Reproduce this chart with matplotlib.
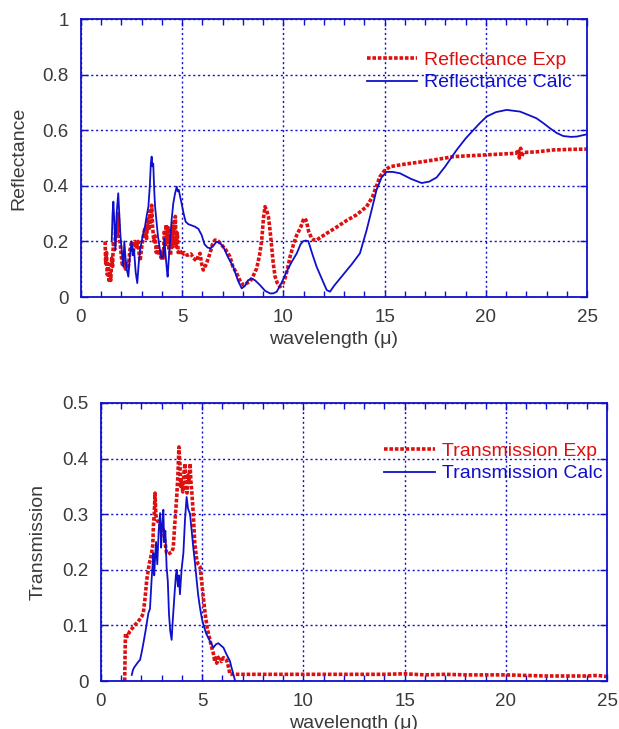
import matplotlib
matplotlib.use("Agg")
import matplotlib.pyplot as plt
from matplotlib.ticker import MultipleLocator, FuncFormatter

plt.rcParams['font.family'] = ['Liberation Sans', 'DejaVu Sans']

# ---- Data ----
refl_exp_x = [1.19,1.22,1.26,1.30,1.34,1.38,1.43,1.47,1.52,1.56,1.60,1.66,1.72,1.78,1.84,1.88,1.94,2.00,2.05,2.12,2.20,2.28,2.34,2.42,2.50,2.58,2.66,2.74,2.82,2.88,2.92,3.00,3.08,3.16,3.24,3.30,3.36,3.41,3.46,3.49,3.54,3.60,3.66,3.72,3.78,3.84,3.90,3.96,4.02,4.07,4.12,4.16,4.20,4.25,4.30,4.34,4.38,4.42,4.48,4.52,4.58,4.62,4.66,4.70,4.76,4.80,4.89,5.00,5.10,5.25,5.43,5.55,5.71,5.80,5.88,5.96,6.04,6.20,6.37,6.50,6.62,6.80,6.95,7.15,7.36,7.50,7.69,7.85,8.02,8.20,8.35,8.50,8.68,8.82,8.93,9.01,9.09,9.18,9.26,9.34,9.42,9.50,9.59,9.70,9.83,9.95,10.08,10.20,10.33,10.50,10.66,10.85,10.98,11.07,11.15,11.25,11.40,11.50,11.64,12.14,12.6,13.12,13.6,14.11,14.4,14.6,14.77,15.0,15.27,16.0,16.91,17.6,18.4,19.2,20.04,20.8,21.5,21.62,21.66,21.72,21.78,21.85,22.5,23.33,24.2,24.98]
refl_exp_y = [0.20,0.12,0.16,0.08,0.12,0.06,0.09,0.06,0.14,0.11,0.20,0.17,0.26,0.22,0.30,0.22,0.19,0.14,0.11,0.13,0.10,0.12,0.11,0.17,0.20,0.16,0.20,0.18,0.20,0.15,0.13,0.18,0.22,0.25,0.21,0.28,0.24,0.31,0.27,0.33,0.25,0.20,0.22,0.16,0.19,0.15,0.17,0.14,0.16,0.14,0.24,0.18,0.26,0.20,0.25,0.17,0.22,0.15,0.24,0.18,0.27,0.20,0.29,0.18,0.23,0.16,0.17,0.15,0.16,0.15,0.155,0.14,0.13,0.15,0.157,0.12,0.097,0.12,0.157,0.19,0.205,0.20,0.187,0.17,0.145,0.11,0.085,0.06,0.043,0.05,0.055,0.075,0.103,0.15,0.205,0.28,0.325,0.31,0.289,0.24,0.181,0.12,0.073,0.05,0.037,0.045,0.067,0.10,0.145,0.19,0.223,0.25,0.277,0.283,0.27,0.235,0.211,0.205,0.205,0.229,0.25,0.275,0.295,0.325,0.36,0.40,0.433,0.455,0.469,0.478,0.487,0.495,0.505,0.508,0.511,0.514,0.517,0.53,0.50,0.535,0.505,0.52,0.522,0.529,0.531,0.532]

refl_calc_x = [1.52,1.56,1.60,1.64,1.70,1.76,1.84,1.89,1.95,2.02,2.09,2.14,2.20,2.26,2.34,2.42,2.50,2.56,2.62,2.70,2.78,2.85,2.92,3.00,3.08,3.16,3.24,3.33,3.40,3.45,3.49,3.53,3.57,3.62,3.66,3.72,3.80,3.90,3.98,4.07,4.12,4.18,4.24,4.28,4.34,4.40,4.48,4.56,4.64,4.73,4.78,4.83,4.90,4.97,5.07,5.17,5.30,5.45,5.63,5.80,5.96,6.10,6.25,6.40,6.55,6.70,6.85,7.03,7.25,7.52,7.75,7.94,8.10,8.25,8.43,8.60,8.84,9.10,9.34,9.50,9.67,9.90,10.16,10.40,10.66,10.85,10.98,11.10,11.23,11.45,11.64,11.90,12.14,12.30,12.50,12.95,13.40,13.78,14.11,14.35,14.60,14.85,15.10,15.40,15.76,16.30,16.83,17.20,17.57,18.0,18.56,19.0,19.38,19.70,20.04,20.50,21.03,21.69,22.10,22.50,22.85,23.17,23.50,23.83,24.20,24.49,24.98]
refl_calc_y = [0.205,0.30,0.343,0.28,0.17,0.30,0.373,0.30,0.22,0.16,0.109,0.20,0.14,0.10,0.073,0.15,0.20,0.15,0.17,0.09,0.05,0.12,0.17,0.20,0.23,0.253,0.29,0.325,0.40,0.48,0.505,0.47,0.48,0.38,0.325,0.28,0.22,0.17,0.14,0.147,0.21,0.15,0.10,0.073,0.14,0.20,0.28,0.337,0.37,0.397,0.38,0.385,0.36,0.337,0.30,0.271,0.262,0.258,0.253,0.245,0.223,0.19,0.178,0.175,0.185,0.199,0.195,0.181,0.145,0.109,0.06,0.031,0.04,0.06,0.067,0.06,0.043,0.022,0.013,0.013,0.019,0.05,0.091,0.125,0.157,0.19,0.201,0.203,0.201,0.15,0.109,0.065,0.025,0.019,0.04,0.08,0.12,0.157,0.24,0.31,0.385,0.43,0.45,0.45,0.445,0.425,0.41,0.415,0.43,0.47,0.529,0.57,0.60,0.625,0.649,0.665,0.673,0.667,0.655,0.643,0.625,0.607,0.59,0.579,0.576,0.577,0.585]

trans_exp_x = [1.17,1.19,1.21,1.30,1.43,1.55,1.65,1.76,1.90,2.0,2.09,2.18,2.26,2.38,2.50,2.56,2.59,2.63,2.67,2.71,2.75,2.85,2.95,3.08,3.16,3.24,3.32,3.40,3.50,3.57,3.64,3.70,3.74,3.80,3.85,3.90,3.94,3.98,4.04,4.10,4.15,4.20,4.25,4.30,4.35,4.40,4.44,4.48,4.56,4.63,4.73,4.80,4.89,4.97,5.05,5.15,5.25,5.38,5.47,5.55,5.62,5.68,5.72,5.80,5.88,5.95,6.05,6.20,6.30,6.37,6.54,8,10,12,14,15,16,17,18,19,20,21,22,23,24,24.5,25]
trans_exp_y = [0.0,0.05,0.086,0.08,0.09,0.095,0.10,0.104,0.11,0.115,0.122,0.15,0.182,0.21,0.23,0.245,0.28,0.30,0.338,0.30,0.29,0.285,0.278,0.272,0.25,0.23,0.228,0.23,0.232,0.24,0.28,0.31,0.331,0.37,0.421,0.39,0.35,0.36,0.34,0.375,0.391,0.35,0.338,0.37,0.36,0.391,0.36,0.344,0.30,0.25,0.218,0.21,0.206,0.18,0.152,0.12,0.095,0.074,0.06,0.05,0.035,0.045,0.032,0.042,0.044,0.035,0.042,0.038,0.025,0.012,0.012,0.012,0.012,0.012,0.012,0.013,0.011,0.012,0.011,0.011,0.011,0.010,0.009,0.009,0.009,0.010,0.008]

trans_calc_x = [1.52,1.58,1.65,1.75,1.85,1.93,2.00,2.09,2.20,2.34,2.42,2.50,2.55,2.59,2.63,2.67,2.72,2.78,2.85,2.92,2.97,3.02,3.08,3.12,3.18,3.24,3.30,3.36,3.42,3.49,3.53,3.57,3.64,3.70,3.74,3.80,3.85,3.90,3.98,4.07,4.15,4.23,4.30,4.40,4.48,4.56,4.65,4.73,4.80,4.89,4.97,5.05,5.20,5.38,5.55,5.68,5.80,5.92,6.05,6.20,6.37,6.45,6.54,6.63]
trans_calc_y = [0.011,0.02,0.025,0.03,0.035,0.038,0.05,0.067,0.09,0.122,0.13,0.182,0.21,0.23,0.19,0.22,0.25,0.21,0.27,0.302,0.24,0.28,0.308,0.25,0.27,0.206,0.18,0.12,0.09,0.074,0.10,0.122,0.16,0.19,0.20,0.17,0.19,0.156,0.20,0.23,0.29,0.331,0.31,0.30,0.27,0.24,0.21,0.18,0.155,0.132,0.115,0.102,0.085,0.072,0.06,0.066,0.068,0.064,0.06,0.048,0.036,0.024,0.012,0.0]

x_ticks = [0, 5, 10, 15, 20, 25]
refl_yticks = [0, 0.2, 0.4, 0.6, 0.8, 1.0]
trans_yticks = [0, 0.1, 0.2, 0.3, 0.4, 0.5]

# ---- Styles ----
RED = '#dd0f0f'
BLUE = '#1010cc'
TXT = '#3a3a3a'
W, H = 619, 729

fig = plt.figure(figsize=(W/100, H/100), dpi=100)

def style_axes(ax, yticks, ylabel, legend_anchor):
    ax.set_xlim(0, 25)
    ax.set_ylim(yticks[0], yticks[-1])
    ax.set_xticks(x_ticks)
    ax.set_yticks(yticks)
    ax.xaxis.set_minor_locator(MultipleLocator(1))
    ax.yaxis.set_major_formatter(FuncFormatter(lambda v, p: '%g' % v))
    ax.xaxis.set_major_formatter(FuncFormatter(lambda v, p: '%g' % v))
    for s in ax.spines.values():
        s.set_color(BLUE)
        s.set_linewidth(1.3)
    ax.tick_params(which='both', direction='in', top=True, right=True,
                   color=BLUE, labelcolor=TXT, labelsize=13.5, width=1.0)
    ax.tick_params(which='major', length=5, pad=9)
    ax.tick_params(which='minor', length=4)
    ax.grid(True, which='major', color=BLUE, linestyle=(0, (1.5, 2.0)), linewidth=1.0)
    ax.set_axisbelow(True)
    ax.set_xlabel('wavelength (\u03bc)', fontsize=14, color=TXT, labelpad=3)
    ax.set_ylabel(ylabel, fontsize=14, color=TXT, labelpad=11)
    ax.legend(loc='upper left', bbox_to_anchor=legend_anchor, frameon=False,
              fontsize=14, handlelength=2.6, handletextpad=0.35,
              labelspacing=0.27, borderpad=0, borderaxespad=0,
              labelcolor='linecolor')

# Top: reflectance
ax1 = fig.add_axes([81/W, 1-297/H, 506/W, 278/H])
ax1.plot(refl_exp_x, refl_exp_y, color=RED, lw=2.6, linestyle=(0, (1.0, 0.5)),
         label='Reflectance Exp')
ax1.plot(refl_calc_x, refl_calc_y, color=BLUE, lw=1.3, label='Reflectance Calc')
style_axes(ax1, refl_yticks, 'Reflectance', (0.565, 0.885))

# Bottom: transmission
ax2 = fig.add_axes([101/W, 1-681/H, 506/W, 278/H])
ax2.plot(trans_exp_x, trans_exp_y, color=RED, lw=2.6, linestyle=(0, (1.0, 0.5)),
         label='Transmission Exp')
ax2.plot(trans_calc_x, trans_calc_y, color=BLUE, lw=1.3, label='Transmission Calc')
style_axes(ax2, trans_yticks, 'Transmission', (0.56, 0.86))

fig.savefig('out.png', dpi=100)
